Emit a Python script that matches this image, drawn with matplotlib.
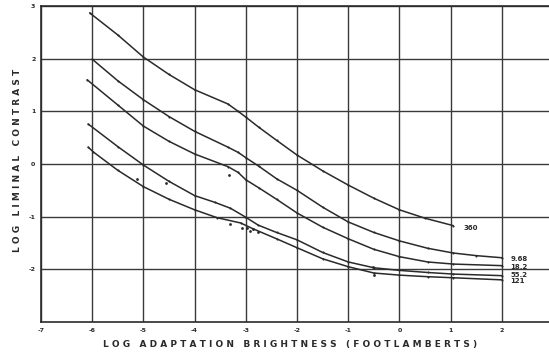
import matplotlib
matplotlib.use("Agg")
import matplotlib.pyplot as plt

plt.rcParams["axes.unicode_minus"] = False

# ---- data ----
labels = ["360", "9.68", "18.2", "55.2", "121"]

x_360 = [-6.05, -5.5, -5, -4.5, -4, -3.35, -3.15, -3, -2.75, -2.4, -2, -1.5, -1, -0.5, 0, 0.5, 1.05]
y_360 = [2.87, 2.45, 2.03, 1.7, 1.41, 1.14, 1.0, 0.89, 0.70, 0.45, 0.17, -0.13, -0.4, -0.65, -0.87, -1.03, -1.17]

x_968 = [-6, -5.5, -5, -4.5, -4, -3.35, -3.15, -3, -2.75, -2.4, -2, -1.5, -1, -0.5, 0, 0.55, 1.05, 1.5, 2]
y_968 = [1.99, 1.58, 1.22, 0.9, 0.62, 0.32, 0.22, 0.12, -0.04, -0.28, -0.5, -0.82, -1.1, -1.3, -1.46, -1.6, -1.69, -1.74, -1.78]

x_182 = [-6.1, -5.5, -5, -4.5, -4, -3.35, -3.15, -3, -2.75, -2.4, -2, -1.5, -1, -0.5, 0, 0.55, 1.05, 2]
y_182 = [1.6, 1.12, 0.72, 0.43, 0.19, -0.05, -0.16, -0.3, -0.45, -0.67, -0.93, -1.2, -1.42, -1.62, -1.76, -1.86, -1.9, -1.93]

x_552 = [-6.08, -5.5, -5, -4.5, -4, -3.6, -3.3, -3.02, -2.76, -2.4, -2, -1.5, -1, -0.5, 0, 0.55, 1.05, 2]
y_552 = [0.76, 0.33, -0.02, -0.33, -0.6, -0.73, -0.84, -1.0, -1.16, -1.3, -1.44, -1.68, -1.86, -1.97, -2.02, -2.06, -2.09, -2.12]

x_121 = [-6.08, -5.98, -5.5, -5, -4.5, -4, -3.56, -3.1, -2.86, -2.4, -2, -1.5, -1, -0.5, 0, 0.55, 1.05, 2]
y_121 = [0.32, 0.23, -0.12, -0.43, -0.67, -0.87, -1.02, -1.12, -1.23, -1.42, -1.59, -1.8, -1.95, -2.07, -2.11, -2.14, -2.16, -2.2]

scatter_x = [-5.12, -4.56, -3.33, -3.31, -3.07, -2.98, -2.92, -2.86, -2.76, -0.52, -0.5]
scatter_y = [-0.28, -0.36, -0.21, -1.14, -1.21, -1.21, -1.27, -1.23, -1.29, -1.95, -2.1]

label_x = [1.4, 2.33, 2.33, 2.33, 2.3]
label_y = [-1.21, -1.8, -1.95, -2.1, -2.22]

x_ticks = [-7, -6, -5, -4, -3, -2, -1, 0, 1, 2]
y_ticks = [-2, -1, 0, 1, 2, 3]

xs = [x_360, x_968, x_182, x_552, x_121]
ys = [y_360, y_968, y_182, y_552, y_121]

# ---- figure ----
ink = "#2a2a2a"
fig = plt.figure(figsize=(5.49, 3.61), dpi=100)
ax = fig.add_axes([41 / 549, (361 - 322) / 361, 1 - 41 / 549, (322 - 6) / 361])
ax.set_xlim(-7, 2.92)
ax.set_ylim(-3, 3)

ax.set_xticks(x_ticks)
ax.set_yticks(y_ticks)
ax.grid(True, color="#3a3a3a", linewidth=1.0)
ax.set_axisbelow(True)

for sp in ["left", "bottom", "top"]:
    ax.spines[sp].set_color(ink)
    ax.spines[sp].set_linewidth(1.2)
ax.spines["right"].set_visible(False)

ax.tick_params(length=0, labelsize=4.5, colors=ink, pad=4)
for t in ax.get_xticklabels() + ax.get_yticklabels():
    t.set_fontweight("bold")

for x, y in zip(xs, ys):
    ax.plot(x, y, color=ink, linewidth=1.1, marker="o", markersize=1.5,
            markerfacecolor=ink, markeredgewidth=0, solid_capstyle="round",
            solid_joinstyle="round")

ax.plot(scatter_x, scatter_y, linestyle="none", marker="o", markersize=2,
        color=ink, markeredgewidth=0)

for lab, lx, ly in zip(labels, label_x, label_y):
    ax.text(lx, ly, lab, fontsize=5, fontweight="bold", color=ink,
            ha="center", va="center", clip_on=False)

def spaced(s):
    return "   ".join(" ".join(w) for w in s.split(" "))

fig.text(290 / 549, 1 - 345 / 361, spaced("LOG ADAPTATION BRIGHTNESS (FOOTLAMBERTS)"),
         fontsize=6.5, fontweight="bold", color=ink, ha="center", va="center")
fig.text(18 / 549, 1 - 160 / 361, spaced("LOG LIMINAL CONTRAST"),
         fontsize=6.5, fontweight="bold", color=ink, ha="center", va="center", rotation=90)

fig.savefig("out.png", dpi=100)
